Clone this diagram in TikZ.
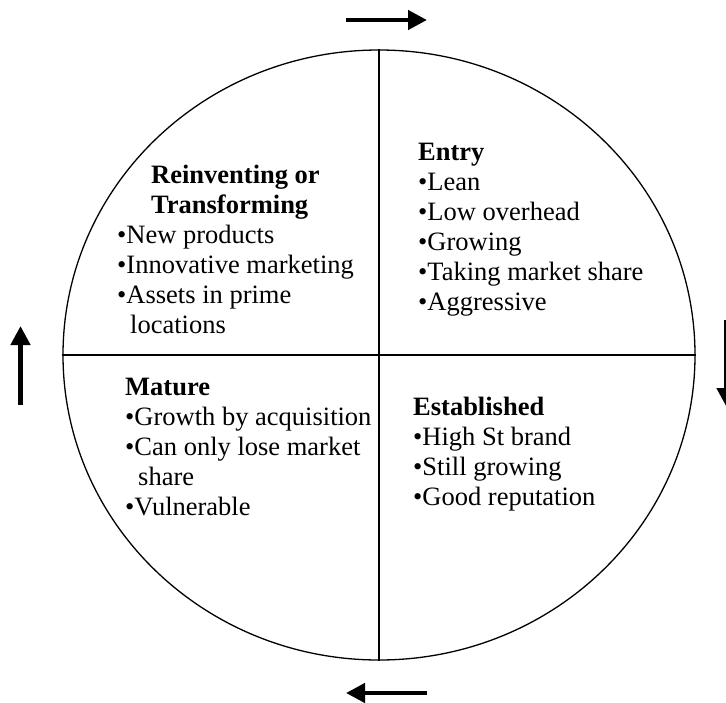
\documentclass[tikz,border=0pt]{standalone}
\usepackage{fontspec}
\setmainfont{Liberation Serif}
\usetikzlibrary{shapes.geometric,arrows.meta}
\tikzset{
  % anchored at the baseline of the block's last line
  block/.style={anchor=base west, align=left, inner sep=0pt,
    font=\fontsize{26.5}{30}\selectfont},
  flow/.style={line width=4.5pt, -{Triangle[length=19pt,width=19pt]}},
  divider/.style={line width=1.3pt}
}
\begin{document}
\begin{tikzpicture}[x=1pt,y=-1pt]
\useasboundingbox (0,0) rectangle (726,702);
% the cycle
\node[ellipse, draw, line width=1.3pt, minimum width=632pt, minimum height=610pt,
      inner sep=0pt] (c) at (379,355) {};
\draw[divider] (c.north) -- (c.south);
\draw[divider] (c.west) -- (c.east);
% quadrants
\node[block] (reinv) at (117,333) {\hspace*{34pt}\textbf{Reinventing or}\\
  \hspace*{34pt}\textbf{Transforming}\\
  •New products\\
  •Innovative marketing\\
  •Assets in prime\\
  \hspace*{13pt}locations};
\node[block] (entry) at (418,310) {\textbf{Entry}\\
  •Lean\\
  •Low overhead\\
  •Growing\\
  •Taking market share\\
  •Aggressive};
\node[block] (mature) at (125,515) {\textbf{Mature}\\
  •Growth by acquisition\\
  •Can only lose market\\
  \hspace*{13pt}share\\
  •Vulnerable};
\node[block] (estab) at (413,505) {\textbf{Established}\\
  •High St brand\\
  •Still growing\\
  •Good reputation};
% direction of the cycle
\coordinate (topA) at (346,20);   \coordinate (topB) at (427,20);
\coordinate (rgtA) at (726.5,320); \coordinate (rgtB) at (726.5,407);
\coordinate (botA) at (427,693);  \coordinate (botB) at (346,693);
\coordinate (lftA) at (20.5,405); \coordinate (lftB) at (20.5,326);
\draw[flow] (topA) -- (topB);
\draw[flow] (rgtA) -- (rgtB);
\draw[flow] (botA) -- (botB);
\draw[flow] (lftA) -- (lftB);
\end{tikzpicture}
\end{document}
